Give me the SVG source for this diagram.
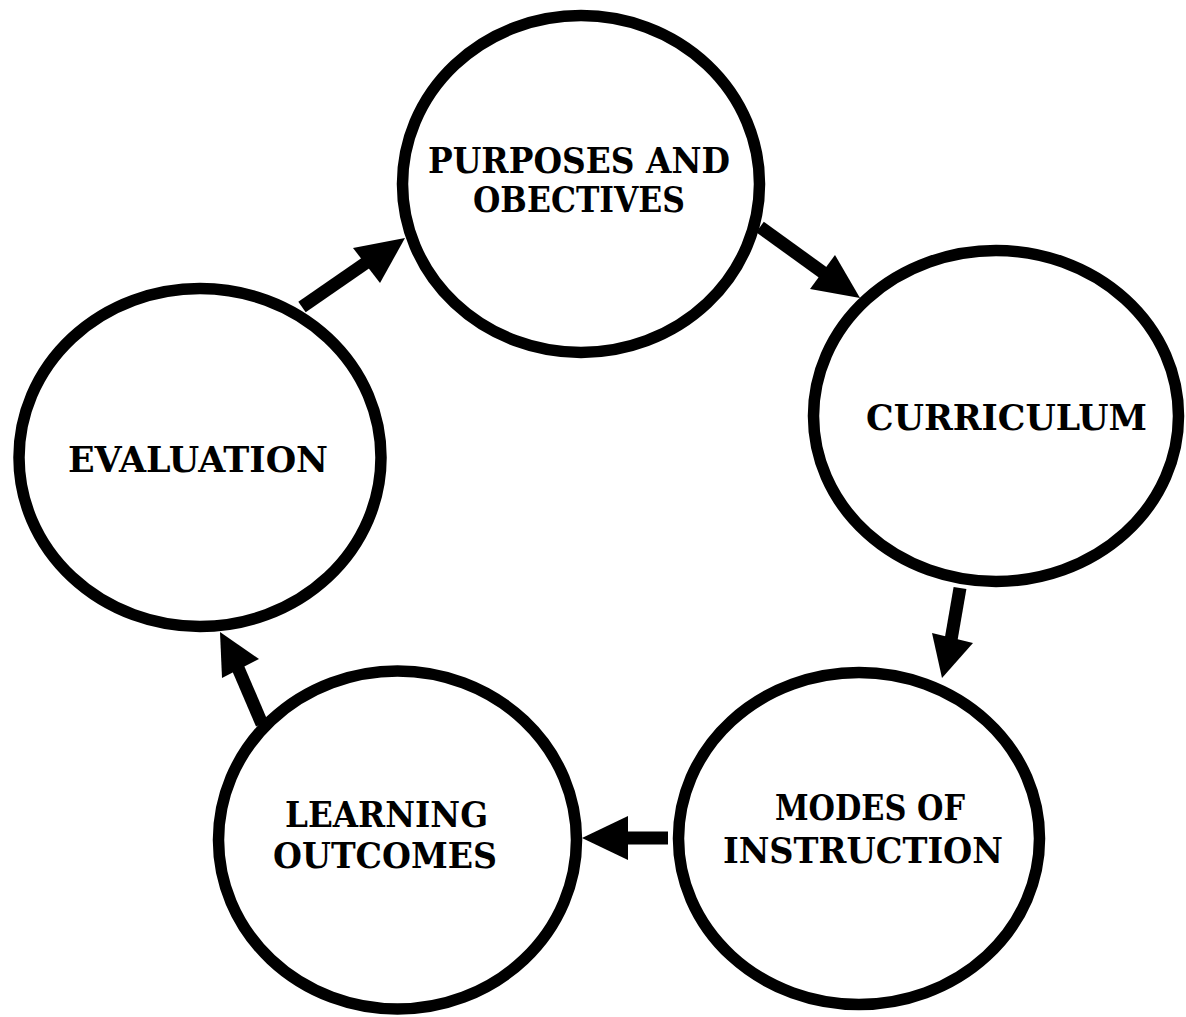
<svg xmlns="http://www.w3.org/2000/svg" width="1186" height="1017" viewBox="0 0 1186 1017">
  <style>
    .node ellipse { fill: #ffffff; stroke: #000000; stroke-width: 11.5; }
    .node text { font-family: "DejaVu Serif", "Liberation Serif", serif; font-weight: bold; font-size: 35px; fill: #000000; text-anchor: middle; }
    .shaft { stroke: #000000; stroke-width: 13; stroke-linecap: butt; fill: none; }
    .head { fill: #000000; stroke: none; }
  </style>
  <rect width="1186" height="1017" fill="#ffffff"/>
  <g id="connectors">
    <g id="e-eval-purp">
      <line class="shaft" x1="302" y1="307" x2="370" y2="260"/>
      <polygon class="head" points="405,238 353,248 380,283"/>
    </g>
    <g id="e-purp-curr">
      <line class="shaft" x1="760" y1="227" x2="825" y2="274"/>
      <polygon class="head" points="860,298 810,289 835,255"/>
    </g>
    <g id="e-curr-modes">
      <line class="shaft" x1="960" y1="588" x2="951" y2="640"/>
      <polygon class="head" points="942,678 932,633 973,643"/>
    </g>
    <g id="e-modes-learn">
      <line class="shaft" x1="668" y1="838" x2="624" y2="838"/>
      <polygon class="head" points="582,838 628,816 628,860"/>
    </g>
    <g id="e-learn-eval">
      <line class="shaft" x1="262" y1="724" x2="238" y2="668"/>
      <polygon class="head" points="220,632 222,678 259,659"/>
    </g>
  </g>
  <g id="n-purposes" class="node">
    <ellipse cx="581" cy="184" rx="178.5" ry="168.5"/>
    <text x="579" y="173" textLength="302" lengthAdjust="spacingAndGlyphs">PURPOSES AND</text>
    <text x="579" y="212" textLength="212" lengthAdjust="spacingAndGlyphs">OBECTIVES</text>
  </g>
  <g id="n-curriculum" class="node">
    <ellipse cx="996" cy="416" rx="182.5" ry="165.5"/>
    <text x="1006.5" y="430" textLength="281" lengthAdjust="spacingAndGlyphs">CURRICULUM</text>
  </g>
  <g id="n-modes" class="node">
    <ellipse cx="859" cy="838.5" rx="180.5" ry="166"/>
    <text x="870" y="820" textLength="190" lengthAdjust="spacingAndGlyphs">MODES OF</text>
    <text x="863" y="863" textLength="280" lengthAdjust="spacingAndGlyphs">INSTRUCTION</text>
  </g>
  <g id="n-learning" class="node">
    <ellipse cx="397.5" cy="840" rx="179" ry="169"/>
    <text x="386.5" y="827" textLength="203" lengthAdjust="spacingAndGlyphs">LEARNING</text>
    <text x="385" y="868" textLength="224" lengthAdjust="spacingAndGlyphs">OUTCOMES</text>
  </g>
  <g id="n-evaluation" class="node">
    <ellipse cx="200" cy="457.5" rx="181" ry="169"/>
    <text x="198" y="472" textLength="260" lengthAdjust="spacingAndGlyphs">EVALUATION</text>
  </g>
</svg>
